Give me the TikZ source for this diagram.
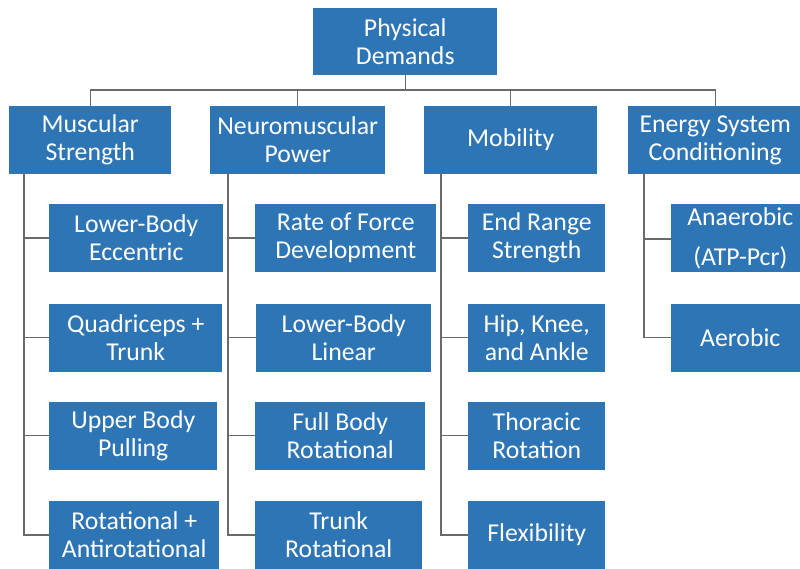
\documentclass[tikz,border=0pt]{standalone}
\usepackage{fontspec}
\setmainfont{Carlito}
\usetikzlibrary{calc,positioning}
\definecolor{boxblue}{HTML}{2E75B6}
\definecolor{linegray}{HTML}{6A6A6A}

\tikzset{
  box/.style={fill=boxblue, text=white, align=center, anchor=west,
    minimum height=51pt, inner sep=2pt,
    font=\fontsize{19.3}{21}\selectfont},
  bw/.style={minimum width=0.75pt*#1},
  link/.style={draw=linegray, line width=1pt},
}

\begin{document}
\begin{tikzpicture}[x=0.75pt,y=-0.75pt]
  \useasboundingbox (0,0) rectangle (800,568);
  \clip (0,0) rectangle (800,568);

  % top of the tree
  \node[box,bw=184,minimum height=50pt] (root) at (313,41.5) {Physical\\Demands};

  % four branches (left edge, centre height)
  \node[box,bw=162] (ms)  at (9,140)   {Muscular\\Strength};
  \node[box,bw=175] (np)  at (210,140) {Neuromuscular\\Power};
  \node[box,bw=173] (mob) at (424,140) {Mobility};
  \node[box,bw=174] (esc) at (628,140) {Energy System\\Conditioning};

  % muscular strength
  \node[box,bw=174] (ms1) at (49,238)   {Lower-Body\\Eccentric};
  \node[box,bw=173] (ms2) at (49,337.5) {Quadriceps +\\Trunk};
  \node[box,bw=168] (ms3) at (49,435.5) {Upper Body\\Pulling};
  \node[box,bw=170] (ms4) at (49,535)   {Rotational +\\Antirotational};

  % neuromuscular power
  \node[box,bw=181] (np1) at (255,238)   {Rate of Force\\Development};
  \node[box,bw=175] (np2) at (256,337.5) {Lower-Body\\Linear};
  \node[box,bw=170] (np3) at (255,435.5) {Full Body\\Rotational};
  \node[box,bw=167] (np4) at (255,535)   {Trunk\\Rotational};

  % mobility
  \node[box,bw=137] (mob1) at (468,238)   {End Range\\Strength};
  \node[box,bw=137] (mob2) at (468,337.5) {Hip, Knee,\\and Ankle};
  \node[box,bw=137] (mob3) at (468,435.5) {Thoracic\\Rotation};
  \node[box,bw=137] (mob4) at (468,535)   {Flexibility};

  % energy systems
  \node[box,bw=138] (esc1) at (671,238) {Anaerobic\\[9pt](ATP-Pcr)};
  \node[box,bw=138] (esc2) at (671,337.5) {Aerobic};

  % bus under the top box
  \coordinate (bus) at (0,90);
  \draw[link] (root.south) -- (root.south |- bus);
  \draw[link] (ms.north) -- (ms.north |- bus) -- (esc.north |- bus) -- (esc.north);
  \draw[link] (np.north) -- (np.north |- bus);
  \draw[link] (mob.north) -- (mob.north |- bus);

  % spines down the left side of each column
  \coordinate (msx)  at ($(ms.south west)+(15,0)$);
  \coordinate (npx)  at ($(np.south west)+(18,0)$);
  \coordinate (mobx) at ($(mob.south west)+(17,0)$);
  \coordinate (escx) at ($(esc.south west)+(16,0)$);

  \draw[link] (msx) |- (ms4.west);
  \draw[link] (npx) |- (np4.west);
  \draw[link] (mobx) |- (mob4.west);
  \draw[link] (escx) |- (esc2.west);

  \foreach \c in {ms1,ms2,ms3}
    \draw[link] (msx |- \c.west) -- (\c.west);
  \foreach \c in {np1,np2,np3}
    \draw[link] (npx |- \c.west) -- (\c.west);
  \foreach \c in {mob1,mob2,mob3}
    \draw[link] (mobx |- \c.west) -- (\c.west);
  \draw[link] (escx |- 0,239) -- (esc1.west |- 0,239);
\end{tikzpicture}
\end{document}
